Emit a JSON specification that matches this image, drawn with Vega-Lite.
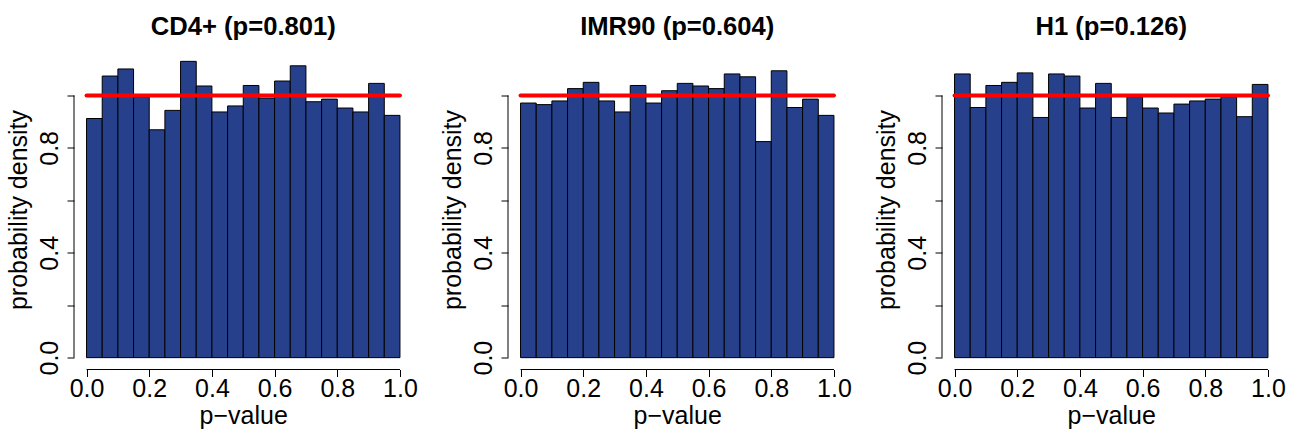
{
  "$schema": "https://vega.github.io/schema/vega-lite/v6.json",
  "padding": {"left": 6, "top": 14.5, "right": 2, "bottom": 2},
  "spacing": 95,
  "bounds": "flush",
  "config": {
    "font": "Liberation Sans",
    "view": {"stroke": null},
    "axis": {"grid": false, "domain": false, "tickColor": "black", "tickSize": 7, "tickWidth": 1, "labelFontSize": 25, "labelColor": "black", "titleFontSize": 25, "titleFontWeight": "normal", "titleColor": "black", "labelFont": "Liberation Sans", "titleFont": "Liberation Sans"},
    "title": {"fontSize": 25.6, "font": "Liberation Sans", "fontWeight": "bold", "color": "black", "anchor": "middle", "baseline": "alphabetic", "offset": 9}
  },
  "datasets": {
    "hist": [
      {"cell": "CD4+", "lo": 0.00, "hi": 0.05, "density": 0.912},
      {"cell": "CD4+", "lo": 0.05, "hi": 0.10, "density": 1.074},
      {"cell": "CD4+", "lo": 0.10, "hi": 0.15, "density": 1.101},
      {"cell": "CD4+", "lo": 0.15, "hi": 0.20, "density": 0.995},
      {"cell": "CD4+", "lo": 0.20, "hi": 0.25, "density": 0.869},
      {"cell": "CD4+", "lo": 0.25, "hi": 0.30, "density": 0.943},
      {"cell": "CD4+", "lo": 0.30, "hi": 0.35, "density": 1.130},
      {"cell": "CD4+", "lo": 0.35, "hi": 0.40, "density": 1.036},
      {"cell": "CD4+", "lo": 0.40, "hi": 0.45, "density": 0.937},
      {"cell": "CD4+", "lo": 0.45, "hi": 0.50, "density": 0.960},
      {"cell": "CD4+", "lo": 0.50, "hi": 0.55, "density": 1.038},
      {"cell": "CD4+", "lo": 0.55, "hi": 0.60, "density": 0.990},
      {"cell": "CD4+", "lo": 0.60, "hi": 0.65, "density": 1.055},
      {"cell": "CD4+", "lo": 0.65, "hi": 0.70, "density": 1.113},
      {"cell": "CD4+", "lo": 0.70, "hi": 0.75, "density": 0.976},
      {"cell": "CD4+", "lo": 0.75, "hi": 0.80, "density": 0.986},
      {"cell": "CD4+", "lo": 0.80, "hi": 0.85, "density": 0.952},
      {"cell": "CD4+", "lo": 0.85, "hi": 0.90, "density": 0.937},
      {"cell": "CD4+", "lo": 0.90, "hi": 0.95, "density": 1.046},
      {"cell": "CD4+", "lo": 0.95, "hi": 1.00, "density": 0.924},
      {"cell": "IMR90", "lo": 0.00, "hi": 0.05, "density": 0.971},
      {"cell": "IMR90", "lo": 0.05, "hi": 0.10, "density": 0.965},
      {"cell": "IMR90", "lo": 0.10, "hi": 0.15, "density": 0.979},
      {"cell": "IMR90", "lo": 0.15, "hi": 0.20, "density": 1.026},
      {"cell": "IMR90", "lo": 0.20, "hi": 0.25, "density": 1.050},
      {"cell": "IMR90", "lo": 0.25, "hi": 0.30, "density": 0.979},
      {"cell": "IMR90", "lo": 0.30, "hi": 0.35, "density": 0.937},
      {"cell": "IMR90", "lo": 0.35, "hi": 0.40, "density": 1.038},
      {"cell": "IMR90", "lo": 0.40, "hi": 0.45, "density": 0.971},
      {"cell": "IMR90", "lo": 0.45, "hi": 0.50, "density": 1.018},
      {"cell": "IMR90", "lo": 0.50, "hi": 0.55, "density": 1.046},
      {"cell": "IMR90", "lo": 0.55, "hi": 0.60, "density": 1.036},
      {"cell": "IMR90", "lo": 0.60, "hi": 0.65, "density": 1.026},
      {"cell": "IMR90", "lo": 0.65, "hi": 0.70, "density": 1.082},
      {"cell": "IMR90", "lo": 0.70, "hi": 0.75, "density": 1.071},
      {"cell": "IMR90", "lo": 0.75, "hi": 0.80, "density": 0.824},
      {"cell": "IMR90", "lo": 0.80, "hi": 0.85, "density": 1.094},
      {"cell": "IMR90", "lo": 0.85, "hi": 0.90, "density": 0.954},
      {"cell": "IMR90", "lo": 0.90, "hi": 0.95, "density": 0.986},
      {"cell": "IMR90", "lo": 0.95, "hi": 1.00, "density": 0.924},
      {"cell": "H1", "lo": 0.00, "hi": 0.05, "density": 1.082},
      {"cell": "H1", "lo": 0.05, "hi": 0.10, "density": 0.954},
      {"cell": "H1", "lo": 0.10, "hi": 0.15, "density": 1.038},
      {"cell": "H1", "lo": 0.15, "hi": 0.20, "density": 1.050},
      {"cell": "H1", "lo": 0.20, "hi": 0.25, "density": 1.086},
      {"cell": "H1", "lo": 0.25, "hi": 0.30, "density": 0.916},
      {"cell": "H1", "lo": 0.30, "hi": 0.35, "density": 1.082},
      {"cell": "H1", "lo": 0.35, "hi": 0.40, "density": 1.074},
      {"cell": "H1", "lo": 0.40, "hi": 0.45, "density": 0.952},
      {"cell": "H1", "lo": 0.45, "hi": 0.50, "density": 1.046},
      {"cell": "H1", "lo": 0.50, "hi": 0.55, "density": 0.916},
      {"cell": "H1", "lo": 0.55, "hi": 0.60, "density": 0.995},
      {"cell": "H1", "lo": 0.60, "hi": 0.65, "density": 0.952},
      {"cell": "H1", "lo": 0.65, "hi": 0.70, "density": 0.933},
      {"cell": "H1", "lo": 0.70, "hi": 0.75, "density": 0.967},
      {"cell": "H1", "lo": 0.75, "hi": 0.80, "density": 0.979},
      {"cell": "H1", "lo": 0.80, "hi": 0.85, "density": 0.986},
      {"cell": "H1", "lo": 0.85, "hi": 0.90, "density": 0.995},
      {"cell": "H1", "lo": 0.90, "hi": 0.95, "density": 0.919},
      {"cell": "H1", "lo": 0.95, "hi": 1.00, "density": 1.042}
    ]
  },
  "hconcat": [
    {
      "title": {"text": "CD4+ (p=0.801)"},
      "width": 338.5, "height": 320,
      "layer": [
        {
          "data": {"name": "hist"},
          "transform": [{"filter": "datum.cell == 'CD4+'"}],
          "mark": {"type": "bar", "fill": "#27408B", "stroke": "black", "strokeWidth": 1},
          "encoding": {
            "x": {"field": "lo", "type": "quantitative", "scale": {"domain": [-0.04, 1.04], "nice": false, "zero": false},
                  "axis": {"values": [0, 0.2, 0.4, 0.6, 0.8, 1], "format": ".1f", "title": "p\u2212value", "labelPadding": 0, "titlePadding": 2}},
            "x2": {"field": "hi"},
            "y": {"field": "density", "type": "quantitative", "scale": {"domain": [-0.0452, 1.1752], "nice": false, "zero": false},
                  "axis": {"values": [0, 0.2, 0.4, 0.6, 0.8, 1], "labelExpr": "datum.value == 0 || datum.value == 0.4 || datum.value == 0.8 ? format(datum.value, '.1f') : ''", "title": "probability density", "labelAngle": 270, "labelAlign": "center", "labelBaseline": "bottom", "labelPadding": 5, "titlePadding": 6}},
            "y2": {"datum": 0}
          }
        },
        {"data": {"values": [{}]}, "mark": {"type": "rule", "color": "black", "strokeWidth": 1}, "encoding": {"x": {"datum": 0}, "x2": {"datum": 1}, "y": {"datum": -0.0452}}},
        {"data": {"values": [{}]}, "mark": {"type": "rule", "color": "black", "strokeWidth": 1}, "encoding": {"x": {"datum": -0.04}, "y": {"datum": 0}, "y2": {"datum": 1}}},
        {"data": {"values": [{}]}, "mark": {"type": "rule", "color": "#FF0000", "strokeWidth": 4, "strokeCap": "round"}, "encoding": {"x": {"datum": 0}, "x2": {"datum": 1}, "y": {"datum": 1}}}
      ]
    },
    {
      "title": {"text": "IMR90 (p=0.604)"},
      "width": 338.5, "height": 320,
      "layer": [
        {
          "data": {"name": "hist"},
          "transform": [{"filter": "datum.cell == 'IMR90'"}],
          "mark": {"type": "bar", "fill": "#27408B", "stroke": "black", "strokeWidth": 1},
          "encoding": {
            "x": {"field": "lo", "type": "quantitative", "scale": {"domain": [-0.04, 1.04], "nice": false, "zero": false},
                  "axis": {"values": [0, 0.2, 0.4, 0.6, 0.8, 1], "format": ".1f", "title": "p\u2212value", "labelPadding": 0, "titlePadding": 2}},
            "x2": {"field": "hi"},
            "y": {"field": "density", "type": "quantitative", "scale": {"domain": [-0.0452, 1.1752], "nice": false, "zero": false},
                  "axis": {"values": [0, 0.2, 0.4, 0.6, 0.8, 1], "labelExpr": "datum.value == 0 || datum.value == 0.4 || datum.value == 0.8 ? format(datum.value, '.1f') : ''", "title": "probability density", "labelAngle": 270, "labelAlign": "center", "labelBaseline": "bottom", "labelPadding": 5, "titlePadding": 6}},
            "y2": {"datum": 0}
          }
        },
        {"data": {"values": [{}]}, "mark": {"type": "rule", "color": "black", "strokeWidth": 1}, "encoding": {"x": {"datum": 0}, "x2": {"datum": 1}, "y": {"datum": -0.0452}}},
        {"data": {"values": [{}]}, "mark": {"type": "rule", "color": "black", "strokeWidth": 1}, "encoding": {"x": {"datum": -0.04}, "y": {"datum": 0}, "y2": {"datum": 1}}},
        {"data": {"values": [{}]}, "mark": {"type": "rule", "color": "#FF0000", "strokeWidth": 4, "strokeCap": "round"}, "encoding": {"x": {"datum": 0}, "x2": {"datum": 1}, "y": {"datum": 1}}}
      ]
    },
    {
      "title": {"text": "H1 (p=0.126)"},
      "width": 338.5, "height": 320,
      "layer": [
        {
          "data": {"name": "hist"},
          "transform": [{"filter": "datum.cell == 'H1'"}],
          "mark": {"type": "bar", "fill": "#27408B", "stroke": "black", "strokeWidth": 1},
          "encoding": {
            "x": {"field": "lo", "type": "quantitative", "scale": {"domain": [-0.04, 1.04], "nice": false, "zero": false},
                  "axis": {"values": [0, 0.2, 0.4, 0.6, 0.8, 1], "format": ".1f", "title": "p\u2212value", "labelPadding": 0, "titlePadding": 2}},
            "x2": {"field": "hi"},
            "y": {"field": "density", "type": "quantitative", "scale": {"domain": [-0.0452, 1.1752], "nice": false, "zero": false},
                  "axis": {"values": [0, 0.2, 0.4, 0.6, 0.8, 1], "labelExpr": "datum.value == 0 || datum.value == 0.4 || datum.value == 0.8 ? format(datum.value, '.1f') : ''", "title": "probability density", "labelAngle": 270, "labelAlign": "center", "labelBaseline": "bottom", "labelPadding": 5, "titlePadding": 6}},
            "y2": {"datum": 0}
          }
        },
        {"data": {"values": [{}]}, "mark": {"type": "rule", "color": "black", "strokeWidth": 1}, "encoding": {"x": {"datum": 0}, "x2": {"datum": 1}, "y": {"datum": -0.0452}}},
        {"data": {"values": [{}]}, "mark": {"type": "rule", "color": "black", "strokeWidth": 1}, "encoding": {"x": {"datum": -0.04}, "y": {"datum": 0}, "y2": {"datum": 1}}},
        {"data": {"values": [{}]}, "mark": {"type": "rule", "color": "#FF0000", "strokeWidth": 4, "strokeCap": "round"}, "encoding": {"x": {"datum": 0}, "x2": {"datum": 1}, "y": {"datum": 1}}}
      ]
    }
  ]
}
